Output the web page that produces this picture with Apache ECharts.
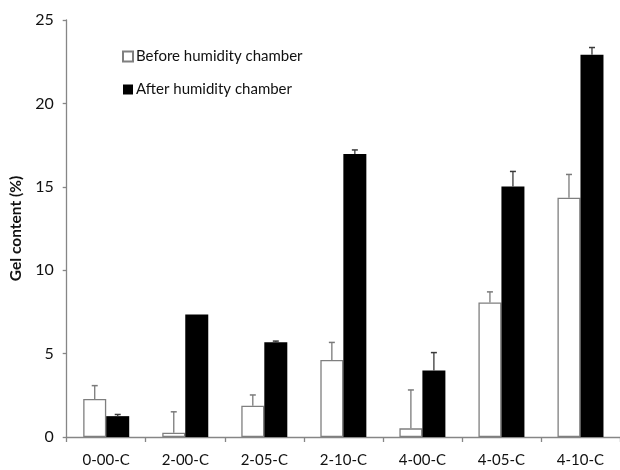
<!DOCTYPE html>
<html>
<head>
<meta charset="utf-8">
<script src="https://cdn.jsdelivr.net/npm/echarts@6/dist/echarts.min.js"></script>
<style>html,body{margin:0;padding:0;background:#fff}#c{width:620px;height:470px}</style>
</head>
<body>
<div id="c"></div>
<script>
var categories = ['0-00-C', '2-00-C', '2-05-C', '2-10-C', '4-00-C', '4-05-C', '4-10-C'];
var beforeValues = [2.28, 0.26, 1.88, 4.62, 0.52, 8.06, 14.34];
var beforeErrors = [0.8, 1.25, 0.64, 1.05, 2.3, 0.64, 1.4];
var afterValues = [1.25, 7.34, 5.68, 16.96, 3.98, 15.02, 22.92];
var afterErrors = [0.1, 0, 0.07, 0.25, 1.08, 0.9, 0.43];
var yTicks = [0, 5, 10, 15, 20, 25];
var seriesNames = ['Before humidity chamber', 'After humidity chamber'];

var FONT = 'Lato';
var BAR_W = 23;

function errData(vals, errs) {
  return vals.map(function (v, i) { return [i, v, errs[i]]; });
}
function makeErr(side, color) {
  return function (params, api) {
    var idx = api.value(0), v = api.value(1), e = api.value(2);
    if (!e) return null;
    var base = api.coord([idx, v]);
    var top = api.coord([idx, v + e]);
    var x = base[0] + side * BAR_W / 2;
    var cap = 3;
    return {
      type: 'group',
      children: [
        { type: 'line', shape: { x1: x, y1: base[1], x2: x, y2: top[1] }, style: { stroke: color, lineWidth: 1.3 } },
        { type: 'line', shape: { x1: x - cap, y1: top[1], x2: x + cap, y2: top[1] }, style: { stroke: color, lineWidth: 1.5 } }
      ]
    };
  };
}

var chart = echarts.init(document.getElementById('c'), null, { renderer: 'canvas' });
chart.setOption({
  animation: false,
  backgroundColor: '#ffffff',
  textStyle: { fontFamily: FONT },
  grid: { left: 66.7, top: 20, bottom: 33, right: -9, containLabel: false },
  legend: {
    orient: 'vertical', left: 117, top: 44,
    itemWidth: 10, itemHeight: 10, itemGap: 18,
    icon: 'rect',
    data: seriesNames,
    textStyle: { fontFamily: FONT, fontSize: 15, color: '#111', padding: [0, 0, 0, -2] }
  },
  xAxis: {
    type: 'category', data: categories,
    axisLine: { lineStyle: { color: '#868686', width: 1.3 } },
    axisTick: { show: true, length: 5, alignWithLabel: false, lineStyle: { color: '#868686', width: 1.3 } },
    axisLabel: { fontFamily: FONT, fontSize: 15, color: '#111', margin: 16 },
    splitLine: { show: false }
  },
  yAxis: {
    type: 'value', min: yTicks[0], max: yTicks[yTicks.length - 1], interval: 5,
    name: 'Gel content (%)', nameLocation: 'middle', nameGap: 37,
    nameTextStyle: { fontFamily: FONT, fontSize: 15.5, fontWeight: 'bold', color: '#111' },
    axisLine: { show: true, lineStyle: { color: '#868686', width: 1.3 } },
    axisTick: { show: true, length: 4, lineStyle: { color: '#868686', width: 1.3 } },
    axisLabel: { fontFamily: FONT, fontSize: 16, color: '#111', margin: 13 },
    splitLine: { show: false }
  },
  series: [
    {
      name: seriesNames[0], type: 'bar', data: beforeValues, barWidth: BAR_W, barGap: '0%',
      itemStyle: { color: '#ffffff', borderColor: '#7f7f7f', borderWidth: 1.3 }
    },
    {
      name: seriesNames[1], type: 'bar', data: afterValues, barWidth: BAR_W, barGap: '0%',
      itemStyle: { color: '#000000', borderColor: '#000000', borderWidth: 0 }
    },
    {
      type: 'custom', renderItem: makeErr(-1, '#7a7a7a'), data: errData(beforeValues, beforeErrors),
      encode: { x: 0, y: 1 }, z: 3, silent: true
    },
    {
      type: 'custom', renderItem: makeErr(1, '#3a3a3a'), data: errData(afterValues, afterErrors),
      encode: { x: 0, y: 1 }, z: 3, silent: true
    }
  ]
});
</script>
</body>
</html>
